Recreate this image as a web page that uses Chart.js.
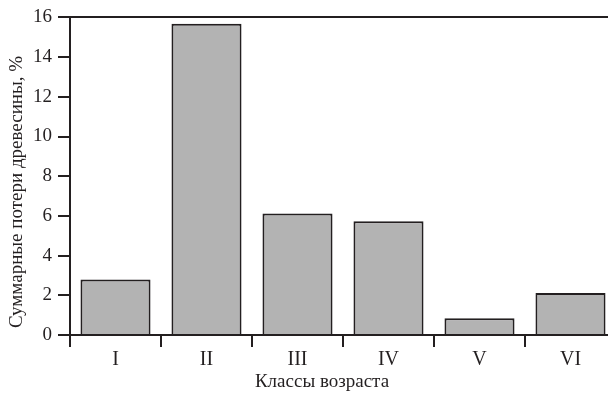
<!DOCTYPE html>
<html>
<head>
<meta charset="utf-8">
<script src="https://cdn.jsdelivr.net/npm/chart.js@4"></script>
<style>
  html, body { margin: 0; padding: 0; background: #fff; overflow: hidden; }
  #wrap { width: 618px; height: 400px; }
</style>
</head>
<body>
<div id="wrap"><canvas id="chart" width="618" height="400"></canvas></div>
<script>
const ageClasses = ['I', 'II', 'III', 'IV', 'V', 'VI'];
const woodLoss = [2.8, 15.68, 6.12, 5.73, 0.84, 2.12];
const yTicks = [0, 2, 4, 6, 8, 10, 12, 14, 16];

const ink = '#231f20';
const serif = '"Liberation Serif", "Times New Roman", serif';

// axis titles sit off-centre in the original, so draw them by hand
const axisTitles = {
  id: 'axisTitles',
  afterDraw(chart) {
    const ctx = chart.ctx;
    ctx.save();
    ctx.fillStyle = ink;
    ctx.font = '19px ' + serif;
    ctx.textAlign = 'center';
    ctx.textBaseline = 'middle';
    ctx.fillText('Классы возраста', 322, 382);
    ctx.translate(17, 192);
    ctx.rotate(-Math.PI / 2);
    ctx.fillText('Суммарные потери древесины, %', 0, 0);
    ctx.restore();
  }
};

new Chart(document.getElementById('chart').getContext('2d'), {
  type: 'bar',
  data: {
    labels: ageClasses,
    datasets: [{
      data: woodLoss,
      backgroundColor: '#b3b3b3',
      borderColor: ink,
      borderWidth: 2,
      categoryPercentage: 1,
      barPercentage: 0.77,
      xAxisID: 'x',
    }]
  },
  options: {
    responsive: false,
    animation: false,
    layout: { padding: { top: 16, right: 2, left: 0, bottom: 0 } },
    plugins: { legend: { display: false }, tooltip: { enabled: false } },
    scales: {
      x: {
        position: 'bottom',
        offset: true,
        grid: { offset: true, drawOnChartArea: false, drawTicks: true, tickLength: 12, color: ink, lineWidth: 2 },
        border: { display: true, color: ink, width: 2 },
        ticks: { color: ink, font: { family: serif, size: 20 }, padding: 1 },
        afterFit(s) { s.height = 65; }
      },
      xTop: {
        type: 'category',
        position: 'top',
        labels: ageClasses,
        grid: { display: false, drawTicks: false },
        border: { display: true, color: ink, width: 2 },
        ticks: { display: false },
        afterFit(s) { s.height = 0; }
      },
      y: {
        min: 0,
        max: 16,
        afterBuildTicks(s) { s.ticks = yTicks.map(v => ({ value: v })); },
        grid: { drawOnChartArea: false, drawTicks: true, tickLength: 12, color: ink, lineWidth: 2 },
        border: { display: true, color: ink, width: 2 },
        ticks: { color: ink, font: { family: serif, size: 19 }, padding: 6 },
        afterFit(s) { s.width = 70; }
      }
    }
  },
  plugins: [axisTitles]
});
</script>
</body>
</html>
